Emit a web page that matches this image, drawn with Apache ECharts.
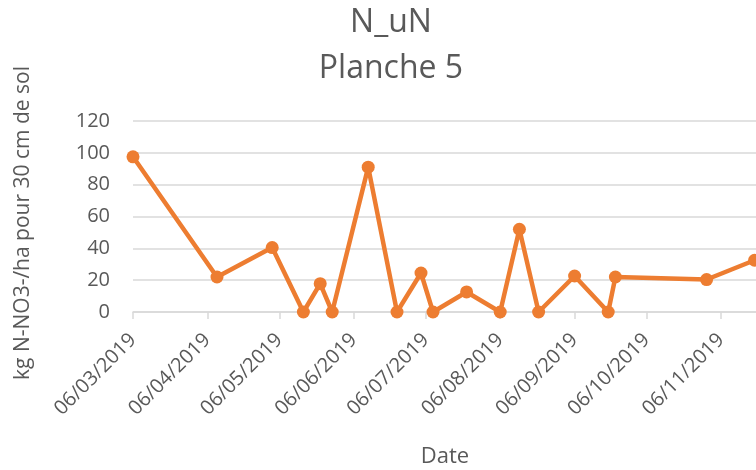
<!DOCTYPE html>
<html style="height: 100%">
<head>
<meta charset="utf-8" />
<title>N_uN Planche 5</title>
<script type="text/javascript" src="https://cdn.jsdelivr.net/npm/echarts@6/dist/echarts.min.js"></script>
</head>
<body style="height: 100%; margin: 0; overflow: hidden;">
<!-- the chart is wider than the window, its right end is cut off like in the original -->
<div id="container" style="width: 800px; height: 470px;"></div>
<script type="text/javascript">
// dates of the samples and the N-NO3 values
var dates = ['2019-03-06', '2019-04-10', '2019-05-03', '2019-05-16', '2019-05-23', '2019-05-28',
    '2019-06-12', '2019-06-24', '2019-07-04', '2019-07-09', '2019-07-23', '2019-08-06',
    '2019-08-14', '2019-08-22', '2019-09-06', '2019-09-20', '2019-09-23', '2019-10-31', '2019-11-20'];
var values = [97.5, 22, 40.5, 0, 17.8, 0, 91, 0, 24.5, 0, 12.6, 0, 52, 0, 22.6, 0, 22, 20.4, 32.5];
// axis ticks every month on the 6th
var tickDates = ['2019-03-06', '2019-04-06', '2019-05-06', '2019-06-06', '2019-07-06',
    '2019-08-06', '2019-09-06', '2019-10-06', '2019-11-06', '2019-12-06'];
var labelDates = tickDates.slice(0, 9);

function toTime(s) {
    var p = s.split('-');
    return new Date(+p[0], +p[1] - 1, +p[2]).getTime();
}
function pad(n) { return n < 10 ? '0' + n : '' + n; }

var data = [];
for (var i = 0; i < dates.length; i++) {
    data.push([toTime(dates[i]), values[i]]);
}

var txt = '#595959';
var font = 'Open Sans';

var myChart = echarts.init(document.getElementById('container'));
var option = {
    animation: false,
    title: {
        text: 'N_uN\nPlanche 5',
        left: 391,
        top: 0,
        padding: 0,
        textAlign: 'center',
        textStyle: { color: txt, fontFamily: font, fontSize: 32, fontWeight: 'normal', lineHeight: 46 }
    },
    grid: { left: 133, right: 7, top: 121, bottom: 158, containLabel: false },
    xAxis: {
        type: 'value',
        min: toTime(tickDates[0]),
        max: toTime(tickDates[tickDates.length - 1]),
        axisLine: { lineStyle: { color: '#D9D9D9', width: 1.5 } },
        axisTick: { show: true, length: 7, customValues: tickDates.map(toTime), lineStyle: { color: '#D9D9D9', width: 1.5 } },
        splitLine: { show: false },
        axisLabel: {
            customValues: labelDates.map(toTime),
            rotate: 45,
            margin: 25,
            color: txt,
            fontFamily: font,
            fontSize: 20,
            formatter: function (v) {
                var d = new Date(v);
                return pad(d.getDate()) + '/' + pad(d.getMonth() + 1) + '/' + d.getFullYear();
            }
        }
    },
    yAxis: {
        type: 'value',
        min: 0,
        max: 120,
        interval: 20,
        name: 'kg N-NO3-/ha pour 30 cm de sol',
        nameLocation: 'middle',
        nameGap: 99,
        nameTextStyle: { color: txt, fontFamily: font, fontSize: 21, padding: [0, 13, 0, 0] },
        axisLine: { show: false },
        axisTick: { show: false },
        splitLine: { lineStyle: { color: '#D9D9D9', width: 1.5 } },
        axisLabel: { color: txt, fontFamily: font, fontSize: 20, margin: 23 }
    },
    graphic: [{
        type: 'text',
        x: 445,
        y: 457,
        style: { text: 'Date', fill: txt, font: '22px "Open Sans"', align: 'center', verticalAlign: 'middle' }
    }],
    series: [{
        type: 'line',
        data: data,
        symbol: 'circle',
        symbolSize: 13,
        lineStyle: { color: '#ED7D31', width: 4.5 },
        itemStyle: { color: '#ED7D31' }
    }]
};
myChart.setOption(option);
</script>
</body>
</html>
